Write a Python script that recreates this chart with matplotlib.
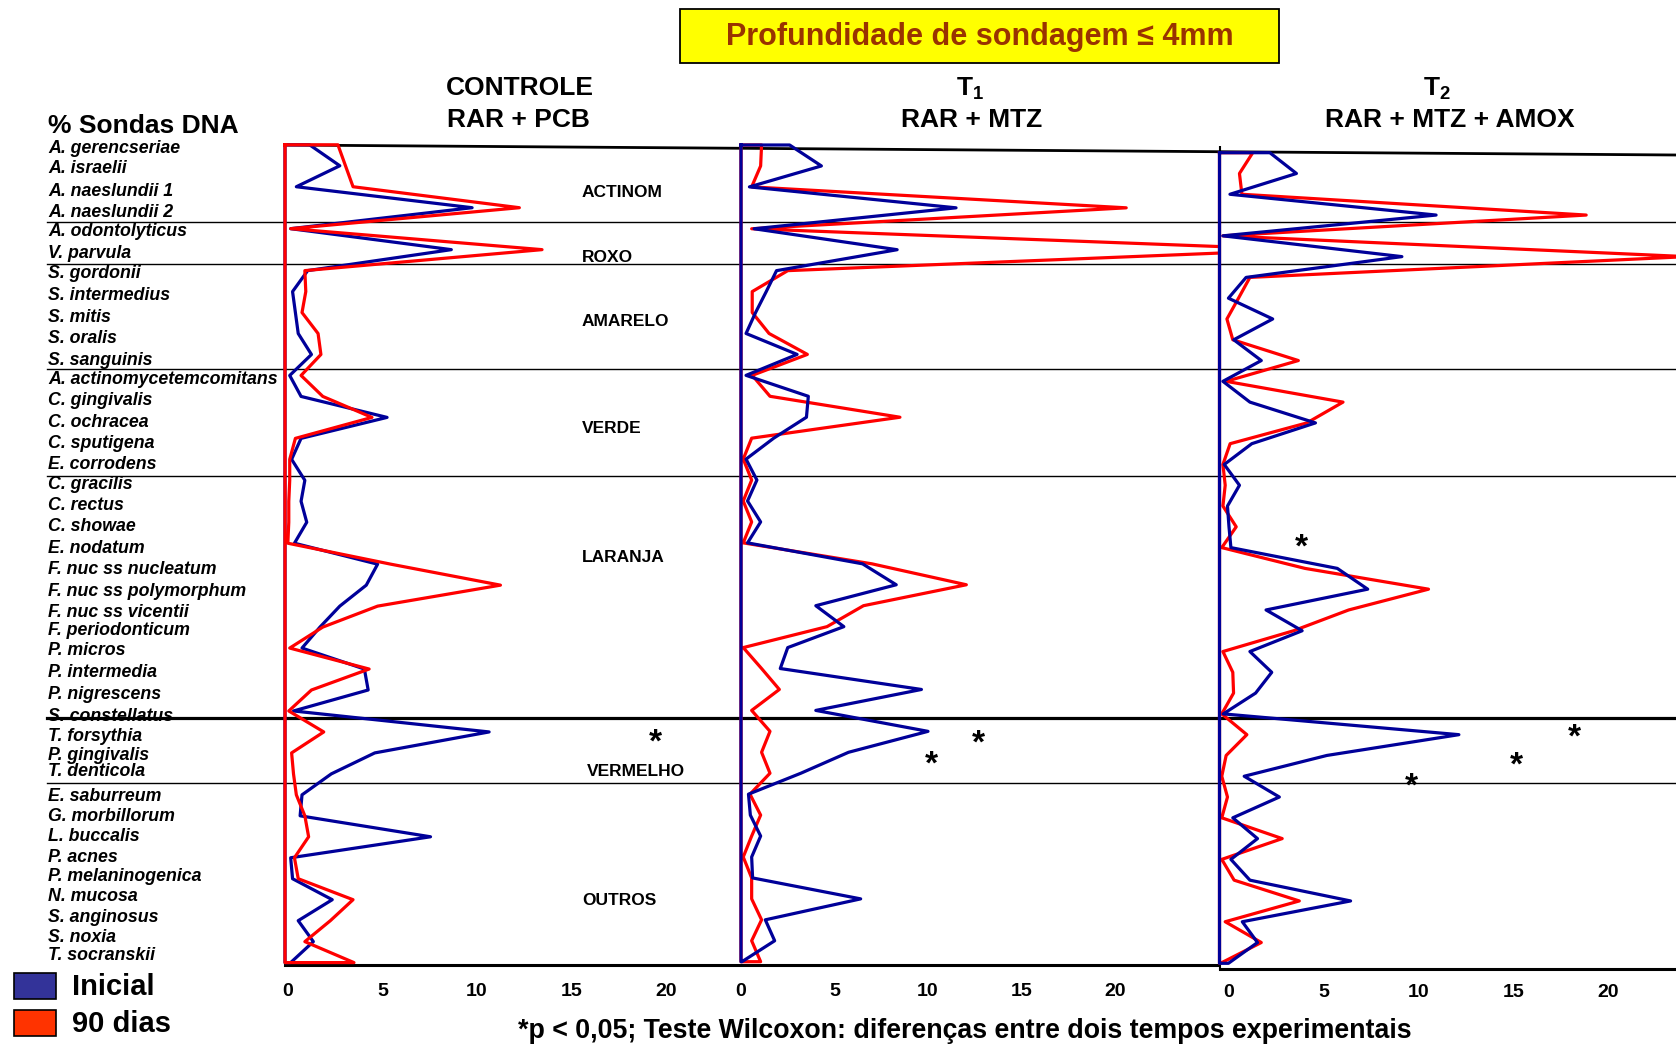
import matplotlib.pyplot as plt
from matplotlib.lines import Line2D
from matplotlib.patches import Rectangle
from matplotlib.transforms import blended_transform_factory, ScaledTranslation

plt.rcParams['font.family'] = ['Liberation Sans', 'DejaVu Sans']
plt.rcParams['font.weight'] = 'bold'
plt.rcParams['mathtext.fontset'] = 'custom'
plt.rcParams['mathtext.rm'] = 'Liberation Sans:bold'
plt.rcParams['mathtext.bf'] = 'Liberation Sans:bold'

species = ['A. gerencseriae', 'A. israelii', 'A. naeslundii 1', 'A. naeslundii 2',
           'A. odontolyticus', 'V. parvula', 'S. gordonii', 'S. intermedius',
           'S. mitis', 'S. oralis', 'S. sanguinis', 'A. actinomycetemcomitans',
           'C. gingivalis', 'C. ochracea', 'C. sputigena', 'E. corrodens',
           'C. gracilis', 'C. rectus', 'C. showae', 'E. nodatum',
           'F. nuc ss nucleatum', 'F. nuc ss polymorphum', 'F. nuc ss vicentii',
           'F. periodonticum', 'P. micros', 'P. intermedia', 'P. nigrescens',
           'S. constellatus', 'T. forsythia', 'P. gingivalis', 'T. denticola',
           'E. saburreum', 'G. morbillorum', 'L. buccalis', 'P. acnes',
           'P. melaninogenica', 'N. mucosa', 'S. anginosus', 'S. noxia',
           'T. socranskii']

# complex groups and the row where each name is written
groups = ['ACTINOM', 'ROXO', 'AMARELO', 'VERDE', 'LARANJA', 'VERMELHO', 'OUTROS']
group_rows = [2.28, 5.38, 8.43, 13.53, 19.68, 29.9, 36.03]

# % of DNA probes, Inicial (blue) and 90 dias (red)
ctrl_ini = [1.3, 2.9, 0.6, 9.9, 0.3, 8.8, 1.2, 0.4, 0.55, 0.7, 1.4, 0.25, 0.85, 5.4,
            0.85, 0.35, 1.05, 0.85, 1.15, 0.5, 4.9, 4.3, 2.9, 1.85, 0.9, 4.2, 4.4,
            0.45, 10.8, 4.75, 2.45, 0.9, 0.8, 7.7, 0.3, 0.4, 2.5, 0.7, 1.5, 0.3]
ctrl_90 = [2.8, 3.2, 3.6, 12.4, 0.3, 13.6, 1.05, 1.1, 0.9, 1.75, 1.9, 0.85, 2.0, 4.6,
           0.55, 0.25, 0.25, 0.2, 0.2, 0.15, 5.6, 11.4, 4.9, 2.0, 0.25, 4.45, 1.4,
           0.2, 2.05, 0.35, 0.45, 0.6, 1.05, 1.25, 0.5, 0.7, 3.6, 2.4, 1.05, 3.65]
t1_ini = [2.6, 4.3, 0.45, 11.5, 0.7, 8.35, 1.9, 1.35, 0.78, 0.27, 3.0, 0.27, 3.6, 3.5,
          1.75, 0.27, 0.85, 0.35, 1.05, 0.35, 6.5, 8.3, 4.0, 5.5, 2.5, 2.1, 9.65,
          4.0, 10.0, 5.75, 3.2, 0.4, 0.5, 1.05, 0.57, 0.62, 6.4, 1.3, 1.8, 0.05]
t1_90 = [1.1, 1.05, 0.57, 20.6, 0.57, 30.0, 2.5, 0.6, 0.6, 1.5, 3.55, 0.6, 1.55, 8.5,
         0.57, 0.12, 0.57, 0.12, 0.57, 0.12, 7.0, 12.05, 6.55, 4.6, 0.12, 1.1, 2.05,
         0.57, 1.55, 1.1, 1.55, 0.48, 1.05, 0.57, 0.12, 0.57, 0.57, 1.1, 0.57, 1.05]
t2_ini = [2.65, 4.05, 0.55, 11.4, 0.18, 9.6, 1.4, 0.47, 2.8, 0.75, 2.2, 0.18, 1.6, 5.05,
          1.7, 0.25, 1.05, 0.42, 0.5, 0.6, 6.2, 7.8, 2.45, 4.35, 1.6, 2.75, 1.9,
          0.2, 12.6, 5.65, 1.3, 3.15, 0.7, 2.0, 0.6, 1.6, 6.9, 1.2, 2.0, 0.47]
t2_90 = [1.75, 1.05, 1.18, 19.3, 0.18, 24.6, 1.6, 1.0, 0.39, 0.7, 4.15, 0.35, 6.5, 4.6,
         0.56, 0.18, 0.3, 0.18, 0.88, 0.12, 4.5, 11.0, 6.8, 3.9, 0.18, 0.7, 0.74,
         0.12, 1.44, 0.35, 0.12, 0.42, 0.12, 3.3, 0.12, 0.77, 4.2, 0.3, 2.2, 0.05]

# significance marks (value, species row) per panel
stars_ctrl = [(19.6, 28.15)]
stars_t1 = [(12.7, 28.2), (10.2, 29.2)]
stars_t2 = [(4.3, 18.6), (18.7, 27.75), (15.65, 29.1), (10.1, 30.1)]

BLUE = '#000099'
RED = '#ff0000'

W, H = 1676, 1045
fig = plt.figure(figsize=(W / 100, H / 100), dpi=100)
n = len(species)
rows = list(range(n))
PAD = 0.3
XPAD = 5  # px of room left of zero so the axis edge isn't clipped

# vertical pixel position of each species name in the left margin
name_y = [147.5, 167.8, 190.3, 211.6, 230.9, 252.3, 272.6, 295.0, 316.4, 337.8,
          359.2, 378.4, 399.8, 421.1, 442.5, 463.9, 483.1, 504.5, 525.9, 547.3,
          568.7, 590.0, 611.4, 629.6, 649.9, 671.3, 693.7, 715.1, 735.4, 754.6,
          770.7, 795.3, 815.6, 835.9, 856.2, 875.4, 895.7, 916.0, 936.4, 954.5]


def fpt(x, y):
    return x / W, 1 - y / H


def hline(xa, xb, ya, yb, lw):
    (x0, y0), (x1, y1) = fpt(xa, ya), fpt(xb, yb)
    fig.add_artist(Line2D([x0, x1], [y0, y1], color='black', lw=lw, zorder=-1))


def make_panel(x0, x1, ytop, ybot, unit, label_dx=0):
    d = (ybot - ytop) / (n - 1)
    top, bot = ytop - PAD * d, ybot + PAD * d
    ax = fig.add_axes([(x0 - XPAD) / W, 1 - bot / H, (x1 - x0 + XPAD) / W, (bot - top) / H])
    ax.set_xlim(-XPAD / unit, (x1 - x0) / unit)
    ax.set_ylim(n - 1 + PAD, -PAD)
    ax.patch.set_alpha(0)
    for s in ax.spines.values():
        s.set_visible(False)
    ax.set_yticks([])
    ax.set_xticks([0, 5, 10, 15, 20])
    ax.tick_params(axis='x', length=0, labelsize=14, pad=10.5)
    if label_dx:
        shift = ScaledTranslation(label_dx / 100, 0, fig.dpi_scale_trans)
        for t in ax.xaxis.get_major_ticks():
            t.label1.set_transform(t.label1.get_transform() + shift)
    return ax


def outline(ax, vals, color, z):
    # closed area outline: axis edge, values, back to the axis
    xs = [0] + list(vals) + [0, 0]
    ys = [0] + rows + [n - 1, 0]
    ax.plot(xs, ys, color=color, lw=2.3, zorder=z)


ax1 = make_panel(285, 741, 144.8, 962.6, 18.9, label_dx=3)
ax2 = make_panel(741, 1219, 145.0, 961.7, 18.7)
ax3 = make_panel(1219.5, 1676, 152.7, 963.3, 19.0, label_dx=9)

ax3.axvline(0, color='black', lw=1.5, zorder=1)

outline(ax1, ctrl_ini, BLUE, 2)
outline(ax1, ctrl_90, RED, 3)
outline(ax2, t1_90, RED, 2)
outline(ax2, t1_ini, BLUE, 3)
outline(ax3, t2_90, RED, 2)
outline(ax3, t2_ini, BLUE, 3)

for ax, stars in [(ax1, stars_ctrl), (ax2, stars_t1), (ax3, stars_t2)]:
    for x, r in stars:
        ax.annotate('*', (x, r), xytext=(0, -6), textcoords='offset points',
                    fontsize=24, ha='center', va='center', zorder=4)

for name, y in zip(species, name_y):
    fig.text(*fpt(48, y + 1), name, fontsize=12.8, style='italic', ha='left', va='center')

# group separators, the one above the red complex drawn heavier
for y, lw in [(222, 1.0), (264, 1.0), (369, 1.0), (476, 1.0), (718, 2.3), (783, 1.0)]:
    hline(47, 1676, y, y, lw)

tr_grp = blended_transform_factory(fig.transFigure, ax1.transData)
for name, r in zip(groups, group_rows):
    gx = 587 if name == 'VERMELHO' else 582
    ax1.text(gx / W, r, name, transform=tr_grp, fontsize=12.5, ha='left', va='center')

# frame lines
hline(285, 1676, 145, 155, 2.0)
hline(285, 1218, 965, 965, 2.2)
hline(1220, 1676, 969, 969, 2.2)

# headers
fig.text(*fpt(48, 126), '% Sondas DNA', fontsize=19, ha='left', va='center')
fig.text(*fpt(520, 88), 'CONTROLE', fontsize=19, ha='center', va='center')
fig.text(*fpt(518, 120), 'RAR + PCB', fontsize=19, ha='center', va='center')
fig.text(*fpt(970, 89), r'$\mathrm{T}_{1}$', fontsize=19, ha='center', va='center')
fig.text(*fpt(972, 120), 'RAR + MTZ', fontsize=19, ha='center', va='center')
fig.text(*fpt(1437, 89), r'$\mathrm{T}_{2}$', fontsize=19, ha='center', va='center')
fig.text(*fpt(1450, 120), 'RAR + MTZ + AMOX', fontsize=19, ha='center', va='center')

bx, by = fpt(680, 63)
fig.add_artist(Rectangle((bx, by), 599 / W, 54.5 / H, transform=fig.transFigure,
                         facecolor='#ffff00', edgecolor='black', lw=1.3))
fig.text(*fpt(980, 37), 'Profundidade de sondagem ≤ 4mm', fontsize=22,
         color='#993300', ha='center', va='center')

# legend
for (ly, label, color) in [(973, 'Inicial', '#333399'), (1010, '90 dias', '#ff3300')]:
    rx, ry = fpt(14, ly + 26)
    fig.add_artist(Rectangle((rx, ry), 42 / W, 26 / H, transform=fig.transFigure,
                             facecolor=color, edgecolor='black', lw=1.2))
    fig.text(*fpt(72, ly + 14), label, fontsize=21, ha='left', va='center')

fig.text(*fpt(965, 1031), '*p < 0,05; Teste Wilcoxon: diferenças entre dois tempos experimentais',
         fontsize=19.3, ha='center', va='center')

fig.savefig('out.png', dpi=100)
